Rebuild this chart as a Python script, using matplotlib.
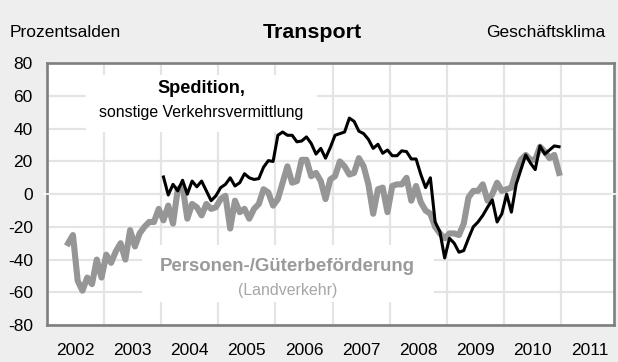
import numpy as np
import matplotlib.pyplot as plt
from matplotlib.patches import Rectangle

plt.rcParams['font.family'] = ['Liberation Sans', 'DejaVu Sans']

# Geschäftsklima Transport, Salden in %, Monatswerte
# Personen-/Güterbeförderung (Landverkehr), ab Mai 2002
personen_start = (2002, 5)
personen = [
    -30, -25, -53, -59, -51, -55, -40, -51,                       # 2002
    -37, -42, -35, -30, -40, -22, -32, -24, -20, -17, -17, -9,    # 2003
    -16, -7, -18, 3, 5, -15, -6, -8, -13, -6, -9, -8,             # 2004
    -3, -1, -21, -4, -11, -9, -15, -9, -6, 3, 1, -7,              # 2005
    -3, 7, 17, 7, 8, 21, 21, 11, 13, 8, -3, 9,                    # 2006
    11, 20, 17, 12, 13, 22, 17, 6, -12, 3, 4, -11,                # 2007
    5, 6, 6, 10, -4, 5, -5, -10, -12, -20, -24, -27,              # 2008
    -24, -24, -25, -18, -2, 2, 2, 6, -4, 0, 7, 2,                 # 2009
    3, 4, 14, 21, 24, 21, 21, 29, 26, 22, 24, 13,                 # 2010
]

# Spedition, sonstige Verkehrsvermittlung, ab Januar 2004
spedition_start = (2004, 1)
spedition = [
    10.5, -0.5, 6, 2, 8.5, 0, 8, 4.5, 8, 2, -4, -1,               # 2004
    4, 6, 10, 5, 7, 12.5, 10, 9, 9.5, 16.5, 20.5, 20,             # 2005
    36, 38, 36, 36, 32, 32.5, 35, 31, 24.5, 28, 22, 28.5,         # 2006
    36, 37, 38, 46.5, 44.5, 38.5, 37, 33.5, 28, 30.5, 25, 27,     # 2007
    23.5, 23.5, 26.5, 26, 21.5, 21.5, 12, 4, 10, -17, -23, -39,   # 2008
    -27, -30, -35.5, -34.5, -27, -20, -17, -13, -8, -3.5, -17, -12,  # 2009
    0, -11, 6, 15, 24, 19, 15, 29.5, 24.5, 27, 29.5, 29,          # 2010
]

years = list(range(2002, 2012))
yticks = list(range(-80, 81, 20))


def month_axis(start, n):
    # Monatsmitte als Dezimaljahr
    y0, m0 = start
    k = np.arange(n) + (m0 - 1)
    return y0 + (k + 0.5) / 12.0


x_pers = month_axis(personen_start, len(personen))
x_sped = month_axis(spedition_start, len(spedition))

bg = '#eeeeee'
fig = plt.figure(figsize=(6.18, 3.62), dpi=100, facecolor=bg)
ax = fig.add_axes([0.0756, 0.1022, 0.918, 0.7229])
ax.set_facecolor('white')

ax.plot(x_pers, personen, color='#969696', lw=4.4, zorder=3)
ax.plot(x_sped, spedition, color='black', lw=2.2, zorder=4)

ax.set_xlim(2002, 2011.92)
ax.set_ylim(-80, 80)

ax.set_yticks(yticks)
ax.set_yticklabels([str(v) for v in yticks])
ax.set_xticks([y + 0.5 for y in years])
ax.set_xticklabels([str(y) for y in years])
ax.set_xticks(years[1:], minor=True)
ax.tick_params(axis='both', which='both', length=0, labelsize=12.5, colors='black')
ax.tick_params(axis='y', pad=10)
ax.tick_params(axis='x', pad=13)

ax.set_axisbelow(True)
ax.grid(True, which='major', axis='y', color='#e4e4e4', lw=1.6)
ax.grid(True, which='minor', axis='x', color='#e4e4e4', lw=1.6)
ax.grid(False, which='major', axis='x')

for s in ax.spines.values():
    s.set_color('#7f7f7f')
    s.set_linewidth(1.9)

# weisse Hinterlegung der Beschriftungen
ax.add_patch(Rectangle((0.0687, 0.7375), 0.4078, 0.2175, transform=ax.transAxes,
                       facecolor='white', edgecolor='none', zorder=1))
ax.add_patch(Rectangle((0.168, 0.0879), 0.5147, 0.2178, transform=ax.transAxes,
                       facecolor='white', edgecolor='none', zorder=1))

# kleine Markierung der Nulllinie am Rahmen
for xa in ([-0.004, 0.004], [0.996, 1.004]):
    ax.plot(xa, [0.5, 0.5], transform=ax.transAxes, color='white', lw=1.2,
            clip_on=False, zorder=6)

ax.text(0.2725, 0.9045, 'Spedition,', transform=ax.transAxes, ha='center',
        va='center', fontsize=13.1, fontweight='bold', zorder=5)
ax.text(0.272, 0.811, 'sonstige Verkehrsvermittlung', transform=ax.transAxes,
        ha='center', va='center', fontsize=11.4, zorder=5)
ax.text(0.424, 0.2228, 'Personen-/Güterbeförderung', transform=ax.transAxes,
        ha='center', va='center', fontsize=13.4, fontweight='bold',
        color='#9a9a9a', zorder=5)
ax.text(0.424, 0.1337, '(Landverkehr)', transform=ax.transAxes, ha='center',
        va='center', fontsize=11.4, color='#a6a6a6', zorder=5)

fig.text(0.016, 0.909, 'Prozentsalden', ha='left', va='center', fontsize=12.5)
fig.text(0.505, 0.909, 'Transport', ha='center', va='center', fontsize=15.4,
         fontweight='bold')
fig.text(0.979, 0.909, 'Geschäftsklima', ha='right', va='center', fontsize=12.5)

fig.savefig('out.png', dpi=100, facecolor=bg)
